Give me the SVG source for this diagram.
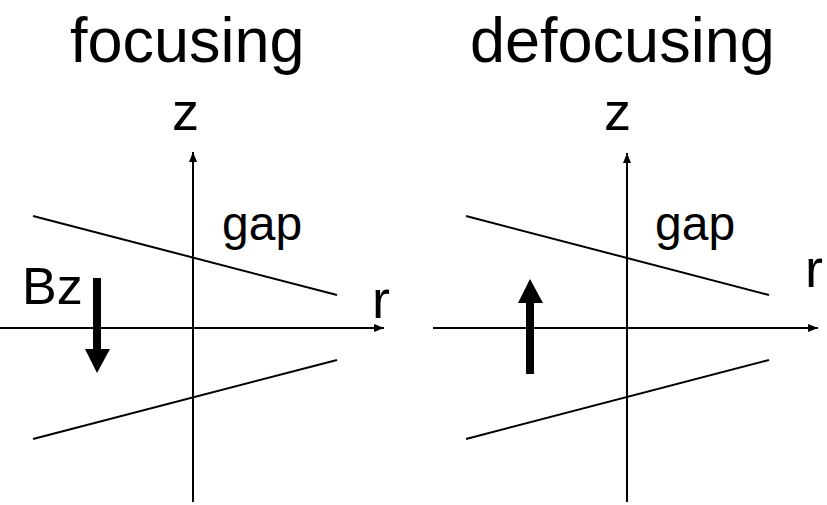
<svg xmlns="http://www.w3.org/2000/svg" width="827" height="505" viewBox="0 0 827 505">
<style>
text{font-family:"Liberation Sans",Arial,sans-serif;fill:#000}
.title{font-size:63px}
.lbl{font-size:48px}
.bz{font-size:52px}
.ax{font-size:54px}
.axis{stroke:#000;stroke-width:2;fill:none}
.gap{stroke:#000;stroke-width:2;fill:none}
.field{fill:#000}
</style>
<defs>
<marker id="ah" viewBox="0 0 10 8" refX="10" refY="4" markerWidth="10" markerHeight="8" markerUnits="userSpaceOnUse" orient="auto">
<path d="M0,0 L10,4 L0,8 Z" fill="#000"/>
</marker>
</defs>
<g id="focusing">
<text class="title" x="70" y="62">focusing</text>
<text class="ax" x="172" y="130">z</text>
<text class="lbl" x="222" y="240">gap</text>
<text class="bz" x="22" y="304">Bz</text>
<text class="ax" x="372" y="318">r</text>
<g id="focusing-axes">
<line class="axis" x1="193" y1="502" x2="193" y2="152" marker-end="url(#ah)"/>
<line class="axis" x1="0" y1="328" x2="384" y2="328" marker-end="url(#ah)"/>
</g>
<g id="focusing-gap">
<line class="gap" x1="33" y1="216" x2="337" y2="295"/>
<line class="gap" x1="33" y1="439" x2="337" y2="360"/>
</g>
<g id="focusing-field">
<path class="field" d="M93,278 H101 V349 H110 L97,373 L85,349 H93 Z"/>
</g>
</g>
<g id="defocusing">
<text class="title" x="470" y="62">defocusing</text>
<text class="ax" x="604" y="130">z</text>
<text class="lbl" x="655" y="240">gap</text>
<text class="ax" x="805" y="287">r</text>
<g id="defocusing-axes">
<line class="axis" x1="627" y1="502" x2="627" y2="153" marker-end="url(#ah)"/>
<line class="axis" x1="433" y1="328" x2="818" y2="328" marker-end="url(#ah)"/>
</g>
<g id="defocusing-gap">
<line class="gap" x1="466" y1="216" x2="769" y2="295"/>
<line class="gap" x1="466" y1="439" x2="769" y2="360"/>
</g>
<g id="defocusing-field">
<path class="field" d="M526,374 H534 V303 H543 L530,279 L518,303 H526 Z"/>
</g>
</g>
</svg>
